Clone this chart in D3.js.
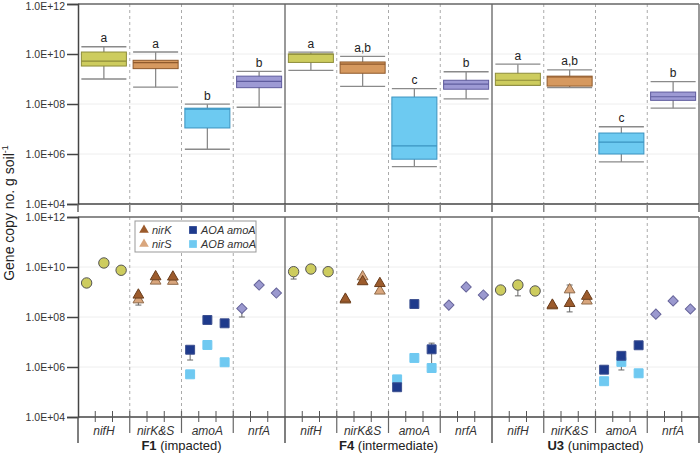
<!DOCTYPE html>
<html><head><meta charset="utf-8">
<script src="https://cdn.jsdelivr.net/npm/d3@7"></script>
<style>body{margin:0;background:#fff;} svg{display:block;font-family:Arial,"Liberation Sans",sans-serif;}</style>
</head><body>
<svg id="c" width="700" height="461"></svg>
<script>
// ---------- data ----------
const groups = ["F1", "F4", "U3"];
const groupDesc = ["(impacted)", "(intermediate)", "(unimpacted)"];
const genes = ["nifH", "nirK&S", "amoA", "nrfA"];
const yTicks = [1e4, 1e6, 1e8, 1e10, 1e12];

// box plots: per group, per gene: [low whisker, q1, median, q3, high whisker]
const boxF1 = [[1.0e9, 3.3e9, 5.2e9, 1.2e10, 1.95e10], [4.7e8, 2.6e9, 4.5e9, 5.6e9, 1.2e10], [1.55e6, 1.1e7, 6.2e7, 6.8e7, 9.8e7], [7.4e7, 4.5e8, 8.1e8, 1.3e9, 2.0e9]];
const boxF4 = [[2.2e9, 4.6e9, 9.9e9, 1.0e10, 1.18e10], [5.1e8, 1.7e9, 3.9e9, 4.8e9, 8.1e9], [3.1e5, 6.2e5, 2.1e6, 1.9e8, 4.1e8], [1.6e8, 3.9e8, 6.2e8, 8.9e8, 1.95e9]];
const boxU3 = [[5.6e8, 5.6e8, 8.9e8, 1.7e9, 3.9e9], [4.5e8, 5.2e8, 1.2e9, 1.3e9, 2.3e9], [4.8e5, 1.0e6, 3.0e6, 6.9e6, 1.23e7], [6.8e7, 1.4e8, 1.95e8, 3.0e8, 7.8e8]];
const letters = [["a", "a", "b", "b"], ["a", "a,b", "c", "b"], ["a", "a,b", "c", "b"]];

// individual sites (3 per group)
const nifH = [[2.3e9, 1.45e10, 7.4e9], [6.5e9, 8.3e9, 6.5e9], [1.2e9, 1.9e9, 1.1e9]];
const nirK = [[7.6e8, 4.1e9, 4.0e9], [5.2e8, 2.6e9, 2.2e9], [3.0e8, 3.5e8, 6.8e8]];
const nirS = [[4.9e8, 2.75e9, 2.7e9], [4.8e8, 4.1e9, 1.1e9], [2.8e8, 1.23e9, 4.4e8]];
const aoaAmoA = [[4.9e6, 7.6e7, 5.6e7], [1.55e5, 3.3e8, 5.1e6], [7.8e5, 2.8e6, 7.4e6]];
const aobAmoA = [[5.1e5, 7.6e6, 1.55e6], [3.2e5, 2.3e6, 9.1e5], [2.7e5, 1.6e6, 5.6e5]];
const nrfA = [[2.2e8, 1.9e9, 9.1e8], [3.0e8, 1.6e9, 7.6e8], [1.3e8, 4.4e8, 2.1e8]];
// error bars: [gene index, group index, site index, low, high]
const errorBars = [
  [1, 0, 0, 3.0e8, 4.9e8], [2, 0, 0, 1.9e6, 4.9e6], [3, 0, 0, 1.0e8, 2.2e8],
  [0, 1, 0, 3.3e9, 6.5e9], [2, 1, 2, 1.3e6, 9.0e6], [3, 1, 2, 5.8e8, 7.6e8],
  [0, 2, 1, 7.0e8, 1.9e9], [1, 2, 1, 1.6e8, 1.9e9], [2, 2, 1, 7.6e5, 1.6e6], [3, 2, 1, 3.6e8, 4.4e8], [2, 2, 2, 4.2e5, 5.6e5]
];

// ---------- layout ----------
const svg = d3.select("#c");
const X0 = 78, X1 = 699;
const xGroup = d3.scaleBand().domain(groups).range([X0, X1]);
const xGene = d3.scaleBand().domain(genes).range([0, xGroup.bandwidth()]);
const xSite = d3.scaleBand().domain([0, 1, 2]).range([0, xGene.bandwidth()]);
const yTop = d3.scaleLog().domain([1e4, 1e12]).range([204, 4]);
const yBot = d3.scaleLog().domain([1e4, 1e12]).range([417, 217]);
const fmt = v => "1.0E+" + String(Math.round(Math.log10(v))).padStart(2, "0");

const geneX = (g, gi) => xGroup(g) + xGene(genes[gi]);
const siteX = (g, gi, s) => geneX(g, gi) + xSite(s) + xSite.bandwidth() / 2;

const boxFill = ["#cdcc5e", "#d6995f", "#6dcaf1", "#9d9ad4"];
const boxStroke = ["#8e8d3a", "#8f5a2c", "#3b93c0", "#5f5c9e"];

function panelFrame(y, isTop) {
  svg.append("g").selectAll("line").data([1e6, 1e8, 1e10]).join("line")
    .attr("x1", X0).attr("x2", X1).attr("y1", d => y(d)).attr("y2", d => y(d))
    .attr("stroke", "#eeeeee").attr("stroke-width", 1);
  const seps = [];
  groups.forEach(g => genes.slice(1).forEach(gn => seps.push(xGroup(g) + xGene(gn))));
  svg.append("g").selectAll("line").data(seps).join("line")
    .attr("x1", d => d).attr("x2", d => d).attr("y1", y.range()[1]).attr("y2", y.range()[0])
    .attr("stroke", "#aaaaaa").attr("stroke-dasharray", "3,3").attr("stroke-width", 1);
  svg.append("g").selectAll("line").data(groups.slice(1)).join("line")
    .attr("x1", d => xGroup(d)).attr("x2", d => xGroup(d)).attr("y1", y.range()[1]).attr("y2", y.range()[0])
    .attr("stroke", "#777").attr("stroke-width", 1.5);
  svg.append("line").attr("x1", X0).attr("x2", X1).attr("y1", y.range()[1]).attr("y2", y.range()[1]).attr("stroke", "#666").attr("stroke-width", 1.5);
  svg.append("line").attr("x1", X1).attr("x2", X1).attr("y1", y.range()[1]).attr("y2", y.range()[0]).attr("stroke", "#777").attr("stroke-width", 1.5);
  const ax = svg.append("g").attr("transform", `translate(${X0},0)`)
    .call(d3.axisLeft(y).tickValues(yTicks).tickFormat(fmt).tickSize(11).tickPadding(2));
  ax.select(".domain").attr("stroke", "#444").attr("stroke-width", 1.5);
  ax.selectAll(".tick line").attr("stroke", "#444").attr("stroke-width", 1.5);
  ax.selectAll("text").attr("font-size", "10.5px").attr("fill", "#333").attr("font-family", "Arial, 'Liberation Sans'");
  if (isTop) ax.selectAll(".tick text").filter(d => d === 1e12).attr("dy", "0.5em");
  svg.append("line").attr("x1", X0).attr("x2", X1).attr("y1", y.range()[0]).attr("y2", y.range()[0]).attr("stroke", "#444").attr("stroke-width", 1.5);
}

// ---------- top panel ----------
panelFrame(yTop, true);
const topTicks = [];
groups.forEach(g => genes.forEach(gn => topTicks.push(xGroup(g) + xGene(gn))));
topTicks.push(X1);
svg.append("g").selectAll("line").data(topTicks).join("line")
  .attr("x1", d => d).attr("x2", d => d).attr("y1", 204).attr("y2", 212)
  .attr("stroke", (d, i) => (i % 4 === 0 || d === X1) ? "#666" : "#888").attr("stroke-width", 1.5);

const boxes = [boxF1, boxF4, boxU3];
const bw = xGene.bandwidth() * 0.87;
groups.forEach((g, gi) => {
  boxes[gi].forEach((b, k) => {
    const cx = geneX(g, k) + xGene.bandwidth() / 2;
    const gg = svg.append("g");
    const [lo, q1, md, q3, hi] = b;
    gg.append("line").attr("x1", cx).attr("x2", cx).attr("y1", yTop(hi)).attr("y2", yTop(lo)).attr("stroke", "#8a8a8a").attr("stroke-width", 1.3);
    [lo, hi].forEach(v => gg.append("line").attr("x1", cx - bw / 2).attr("x2", cx + bw / 2).attr("y1", yTop(v)).attr("y2", yTop(v)).attr("stroke", "#8a8a8a").attr("stroke-width", 1.3));
    gg.append("rect").attr("x", cx - bw / 2).attr("width", bw).attr("y", yTop(q3)).attr("height", yTop(q1) - yTop(q3))
      .attr("fill", boxFill[k]).attr("stroke", boxStroke[k]).attr("stroke-width", 1);
    gg.append("line").attr("x1", cx - bw / 2).attr("x2", cx + bw / 2).attr("y1", yTop(md)).attr("y2", yTop(md)).attr("stroke", boxStroke[k]).attr("stroke-width", 1.2);
    gg.append("text").attr("x", cx).attr("y", yTop(hi) - 4.5).attr("text-anchor", "middle")
      .attr("font-size", "12px").attr("fill", "#222").text(letters[gi][k]);
  });
});

// ---------- bottom panel ----------
panelFrame(yBot, false);
const botTicks = [];
groups.forEach(g => genes.forEach(gn => [1, 2].forEach(s => botTicks.push(xGroup(g) + xGene(gn) + xSite.bandwidth() * s))));
svg.append("g").selectAll("line").data(botTicks).join("line")
  .attr("x1", d => d).attr("x2", d => d).attr("y1", 411).attr("y2", 422)
  .attr("stroke", "#555").attr("stroke-width", 1);
const geneSeps = [];
groups.forEach(g => genes.slice(1).forEach(gn => geneSeps.push(xGroup(g) + xGene(gn))));
svg.append("g").selectAll("line").data(geneSeps).join("line")
  .attr("x1", d => d).attr("x2", d => d).attr("y1", 411).attr("y2", 433).attr("stroke", "#666").attr("stroke-width", 1.2);
svg.append("g").selectAll("line").data([X0, xGroup("F4"), xGroup("U3"), X1]).join("line")
  .attr("x1", d => d).attr("x2", d => d).attr("y1", 417).attr("y2", 443).attr("stroke", "#555").attr("stroke-width", 1.5);
groups.forEach(g => genes.forEach((gn, k) => {
  svg.append("text").attr("x", geneX(g, k) + xGene.bandwidth() / 2).attr("y", 435)
    .attr("text-anchor", "middle").attr("font-size", "12px").attr("font-style", "italic").attr("fill", "#333").text(gn);
}));
groups.forEach((g, gi) => {
  const t = svg.append("text").attr("x", xGroup(g) + xGroup.bandwidth() / 2).attr("y", 450)
    .attr("text-anchor", "middle").attr("font-size", "13px").attr("fill", "#222");
  t.append("tspan").attr("font-weight", "bold").text(g + " ");
  t.append("tspan").text(groupDesc[gi]);
});

errorBars.forEach(([k, gi, s, lo, hi]) => {
  const cx = siteX(groups[gi], k, s);
  svg.append("line").attr("x1", cx).attr("x2", cx).attr("y1", yBot(hi)).attr("y2", yBot(lo)).attr("stroke", "#666").attr("stroke-width", 1);
  [lo, hi].forEach(v => svg.append("line").attr("x1", cx - 3).attr("x2", cx + 3).attr("y1", yBot(v)).attr("y2", yBot(v)).attr("stroke", "#666").attr("stroke-width", 1));
});

function drawSeries(data, k, symbol, size, fill, stroke, rot) {
  const pts = [];
  groups.forEach((g, gi) => data[gi].forEach((v, s) => pts.push({ x: siteX(g, k, s), y: yBot(v) })));
  svg.append("g").selectAll("path").data(pts).join("path")
    .attr("d", d3.symbol().type(symbol).size(size))
    .attr("transform", d => `translate(${d.x},${d.y})` + (rot ? " rotate(45)" : ""))
    .attr("fill", fill).attr("stroke", stroke).attr("stroke-width", 1);
}
drawSeries(nifH, 0, d3.symbolCircle, 85, "#cdcc5e", "#555", false);
drawSeries(nirS, 1, d3.symbolTriangle, 50, "#d9a67d", "#8f6a4a", false);
drawSeries(nirK, 1, d3.symbolTriangle, 50, "#9c5b2c", "#6a3d1c", false);
drawSeries(aobAmoA, 2, d3.symbolSquare, 80, "#6fc9f1", "#6fc9f1", false);
drawSeries(aoaAmoA, 2, d3.symbolSquare, 80, "#1e3a8c", "#3c4f8f", false);
drawSeries(nrfA, 3, d3.symbolSquare, 52, "#9b99cf", "#66649a", true);

// legend
const lg = svg.append("g");
lg.append("rect").attr("x", 135).attr("y", 221).attr("width", 121).attr("height", 31).attr("fill", "#fff").attr("stroke", "#999").attr("stroke-width", 1);
const legendItems = [
  ["nirK", d3.symbolTriangle, 40, "#9c5b2c", 144, 230],
  ["nirS", d3.symbolTriangle, 40, "#d9a67d", 144, 244],
  ["AOA amoA", d3.symbolSquare, 60, "#1e3a8c", 193, 230],
  ["AOB amoA", d3.symbolSquare, 60, "#6fc9f1", 193, 244]
];
legendItems.forEach(([lab, sym, sz, col, x, y]) => {
  lg.append("path").attr("d", d3.symbol().type(sym).size(sz)).attr("transform", `translate(${x},${y})`).attr("fill", col);
  lg.append("text").attr("x", x + 8).attr("y", y + 4).attr("font-size", "11px").attr("font-style", "italic").attr("fill", "#333").text(lab);
});

const yl = svg.append("text").attr("transform", "translate(13.5,213) rotate(-90)").attr("text-anchor", "middle")
  .attr("font-size", "14px").attr("fill", "#222");
yl.append("tspan").text("Gene copy no. g soil");
yl.append("tspan").attr("font-size", "9px").attr("dy", "-6").text("-1");
</script>
</body></html>
